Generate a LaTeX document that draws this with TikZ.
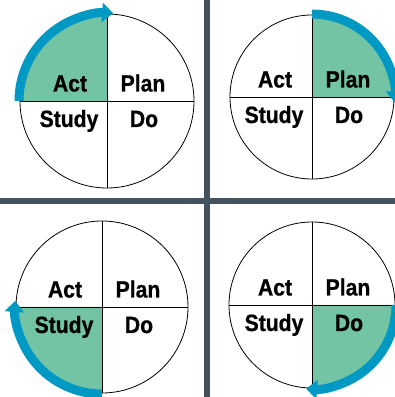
\documentclass[tikz,border=0pt]{standalone}
\usepackage{fontspec}
\usepackage{tikz}
\usetikzlibrary{arrows.meta}
\newfontfamily\wheelfont{Liberation Sans}[FakeStretch=0.9, BoldFeatures={FakeBold=0.8}]
\definecolor{actgreen}{RGB}{114,196,164}
\definecolor{turnblue}{RGB}{0,153,196}
\definecolor{dividergray}{RGB}{68,83,94}
\tikzset{
  wheelline/.style = {black, line width=0.8pt},
  turnarrow/.style = {turnblue, line width=9pt, -{Triangle[length=11pt,width=19pt]}},
  quadlabel/.style = {font=\wheelfont\bfseries\fontsize{23.5}{26}\selectfont, anchor=base, inner sep=0pt},
  divider/.style = {dividergray, line width=6pt}
}
% one wheel: #1 tag, #2 #3 centre, #4 radius, #5 angle where the arrow starts
\newcommand{\pdsawheel}[5]{%
  \begin{scope}[shift={(#2,#3)}]
    \fill[actgreen] (0,0) -- (#5-90:#4) arc[start angle=#5-90, end angle=#5, radius=#4] -- cycle;
    \draw[wheelline] (-#4,0) -- (#4,0) (0,-#4) -- (0,#4);
    \draw[wheelline] (0,0) circle[radius=#4];
    \draw[turnarrow] (#5:#4+1) arc[start angle=#5, end angle=#5-94, radius=#4+1];
    \node[quadlabel] (act#1) at (-37,9.5) {Act};
    \node[quadlabel] (plan#1) at (36,9.5) {Plan};
    \node[quadlabel] (study#1) at (-38,-26) {Study};
    \node[quadlabel] (do#1) at (37,-26) {Do};
  \end{scope}}

\begin{document}
\begin{tikzpicture}[x=1pt,y=1pt]
  \useasboundingbox (0,0) rectangle (395,397);
  \clip (0,0) rectangle (395,397);
  \fill[white] (0,0) rectangle (395,397);

  \draw[divider] (207,0) -- (207,397);
  \draw[divider] (0,196) -- (395,196);

  \pdsawheel{a}{107}{296}{87}{180}
  \pdsawheel{b}{312}{300}{82}{90}
  \pdsawheel{c}{102}{90}{86}{270}
  \pdsawheel{d}{312}{92}{83}{360}
\end{tikzpicture}
\end{document}
